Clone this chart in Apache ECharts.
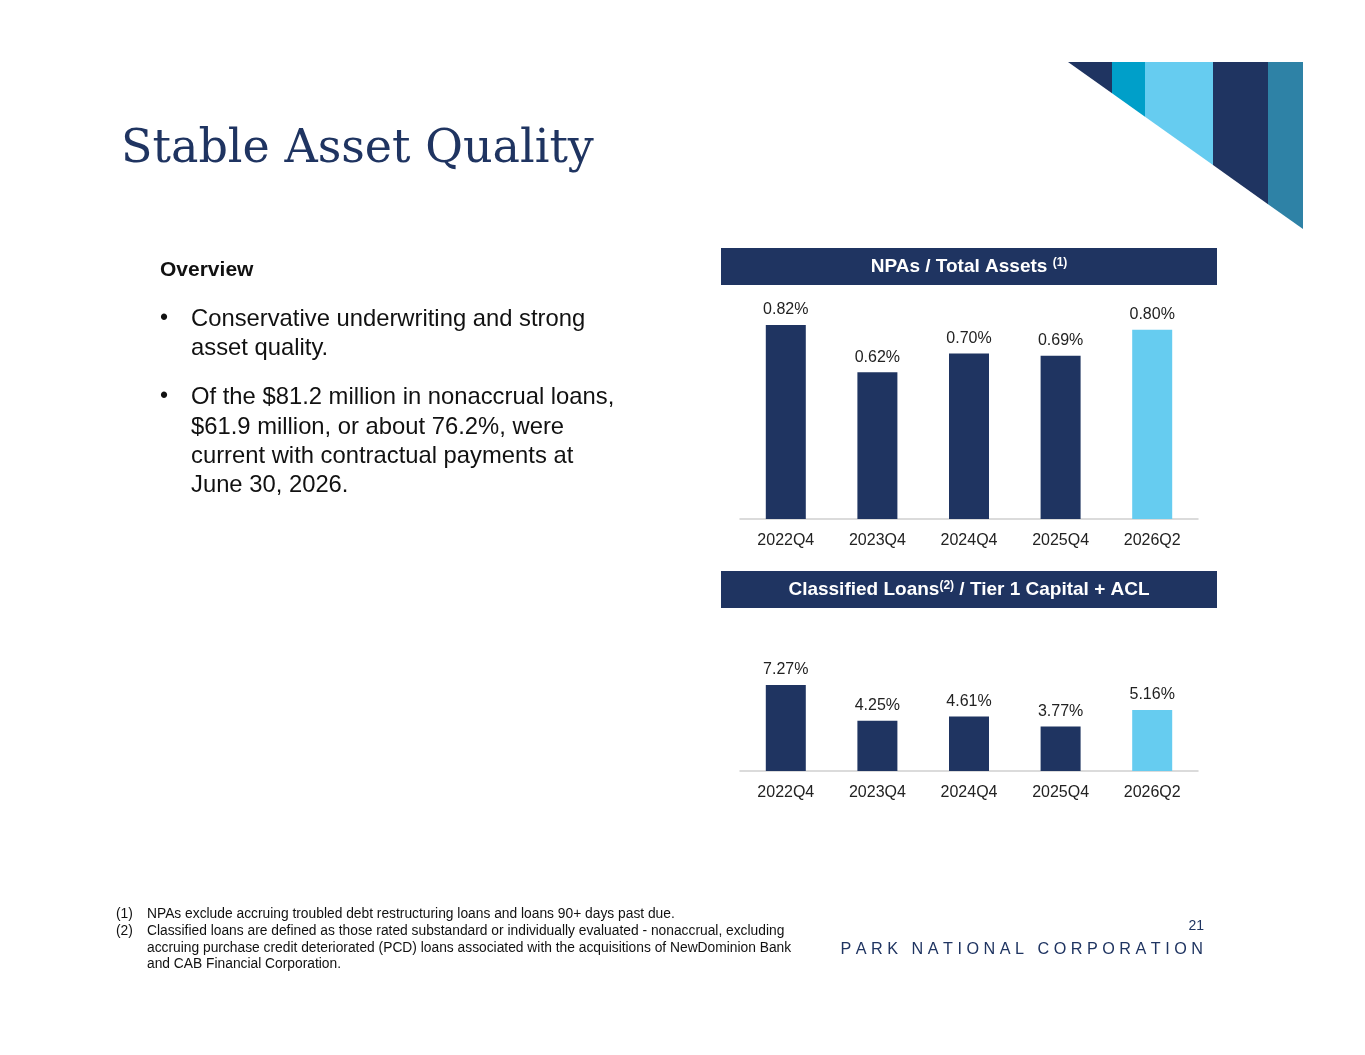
<!DOCTYPE html>
<html>
<head>
<meta charset="utf-8">
<script src="https://cdn.jsdelivr.net/npm/echarts@6/dist/echarts.min.js"></script>
<style>
  html, body { margin: 0; padding: 0; background: #fff; }
  #main { width: 1365px; height: 1055px; }
</style>
</head>
<body>
<div id="main"></div>
<script>
var quarters = ['2022Q4', '2023Q4', '2024Q4', '2025Q4', '2026Q2'];
var npaValues = [0.82, 0.62, 0.70, 0.69, 0.80];
var classifiedValues = [7.27, 4.25, 4.61, 3.77, 5.16];

var NAVY = '#1f3461';
var LIGHT = '#66ccf0';
var FONT = 'Liberation Sans, Arial, sans-serif';

function barData(vals) {
    return vals.map(function (v, i) {
        return { value: v, itemStyle: { color: i === vals.length - 1 ? LIGHT : NAVY } };
    });
}

// corner decoration: triangle split into vertical strips
function yAt(x) { return 62 + (x - 1068) * 167 / 235; }
var strips = [[1068, 1112, NAVY], [1112, 1145, '#009fc9'], [1145, 1213, LIGHT], [1213, 1268, NAVY], [1268, 1303, '#2e82a6']];
var deco = strips.map(function (s) {
    return {
        type: 'polygon',
        shape: { points: [[s[0], 62], [s[1], 62], [s[1], yAt(s[1])], [s[0], yAt(s[0])]] },
        style: { fill: s[2] }
    };
});

function txt(x, y, t, size, opt) {
    opt = opt || {};
    return {
        type: 'text', x: x, y: y, z: 10,
        style: {
            text: t, fontSize: size, fontFamily: opt.family || FONT,
            fontWeight: opt.bold ? 'bold' : 'normal',
            fill: opt.color || '#111', textAlign: opt.align || 'left', textVerticalAlign: 'middle'
        }
    };
}

var graphics = deco.concat([
    txt(121, 150, 'Stable Asset Quality', 46, { family: 'DejaVu Serif, Georgia, serif', color: NAVY }),
    { type: 'rect', shape: { x: 721, y: 248, width: 496, height: 37 }, style: { fill: NAVY } },
    { type: 'rect', shape: { x: 721, y: 571, width: 496, height: 37 }, style: { fill: NAVY } },
    {
        type: 'text', x: 969, y: 267, z: 10,
        style: {
            text: '{a|NPAs / Total Assets }{s|(1)}', textAlign: 'center', textVerticalAlign: 'middle',
            rich: {
                a: { fontSize: 19, fontWeight: 'bold', fill: '#fff', fontFamily: FONT },
                s: { fontSize: 12, fontWeight: 'bold', fill: '#fff', fontFamily: FONT, padding: [0, 0, 8, 0] }
            }
        }
    },
    {
        type: 'text', x: 969, y: 590, z: 10,
        style: {
            text: '{a|Classified Loans}{s|(2)}{a| / Tier 1 Capital + ACL}', textAlign: 'center', textVerticalAlign: 'middle',
            rich: {
                a: { fontSize: 19, fontWeight: 'bold', fill: '#fff', fontFamily: FONT },
                s: { fontSize: 12, fontWeight: 'bold', fill: '#fff', fontFamily: FONT, padding: [0, 0, 8, 0] }
            }
        }
    },
    txt(160, 270, 'Overview', 21, { bold: true }),
    txt(160, 319, '•', 23),
    txt(191, 319, 'Conservative underwriting and strong', 23.8),
    txt(191, 348, 'asset quality.', 23.8),
    txt(160, 397, '•', 23),
    txt(191, 397, 'Of the $81.2 million in nonaccrual loans,', 23.8),
    txt(191, 427, '$61.9 million, or about 76.2%, were', 23.8),
    txt(191, 456, 'current with contractual payments at', 23.8),
    txt(191, 485, 'June 30, 2026.', 23.8),
    txt(116, 914, '(1)', 13.8),
    txt(147, 914, 'NPAs exclude accruing troubled debt restructuring loans and loans 90+ days past due.', 13.8),
    txt(116, 931, '(2)', 13.8),
    txt(147, 931, 'Classified loans are defined as those rated substandard or individually evaluated - nonaccrual, excluding', 13.8),
    txt(147, 948, 'accruing purchase credit deteriorated (PCD) loans associated with the acquisitions of NewDominion Bank', 13.8),
    txt(147, 964, 'and CAB Financial Corporation.', 13.8),
    txt(1204, 926, '21', 14, { color: NAVY, align: 'right' }),
    txt(1203, 950, 'P A R K   N A T I O N A L   C O R P O R A T I O N', 16.2, { color: NAVY, align: 'right' })
]);

function xAxisCfg(idx) {
    return {
        type: 'category', gridIndex: idx, data: quarters,
        axisLine: { lineStyle: { color: '#d0d0d0', width: 1.5 } },
        axisTick: { show: false },
        axisLabel: { fontSize: 16, color: '#222', fontFamily: FONT, margin: 14 }
    };
}
function yAxisCfg(idx, max) {
    return { type: 'value', gridIndex: idx, min: 0, max: max, show: false, splitLine: { show: false } };
}
function seriesCfg(idx, vals) {
    return {
        type: 'bar', xAxisIndex: idx, yAxisIndex: idx, barWidth: 40,
        data: barData(vals),
        label: {
            show: true, position: 'top', distance: 7, fontSize: 16, color: '#222', fontFamily: FONT,
            formatter: function (p) { return p.value.toFixed(2) + '%'; }
        }
    };
}

var chart = echarts.init(document.getElementById('main'));
chart.setOption({
    animation: false,
    backgroundColor: '#fff',
    grid: [
        { left: 740, width: 458, top: 282.4, height: 236.6 },
        { left: 740, width: 458, top: 534.4, height: 236.6 }
    ],
    xAxis: [xAxisCfg(0), xAxisCfg(1)],
    yAxis: [yAxisCfg(0, 1), yAxisCfg(1, 20)],
    series: [seriesCfg(0, npaValues), seriesCfg(1, classifiedValues)],
    graphic: graphics
});
</script>
</body>
</html>
